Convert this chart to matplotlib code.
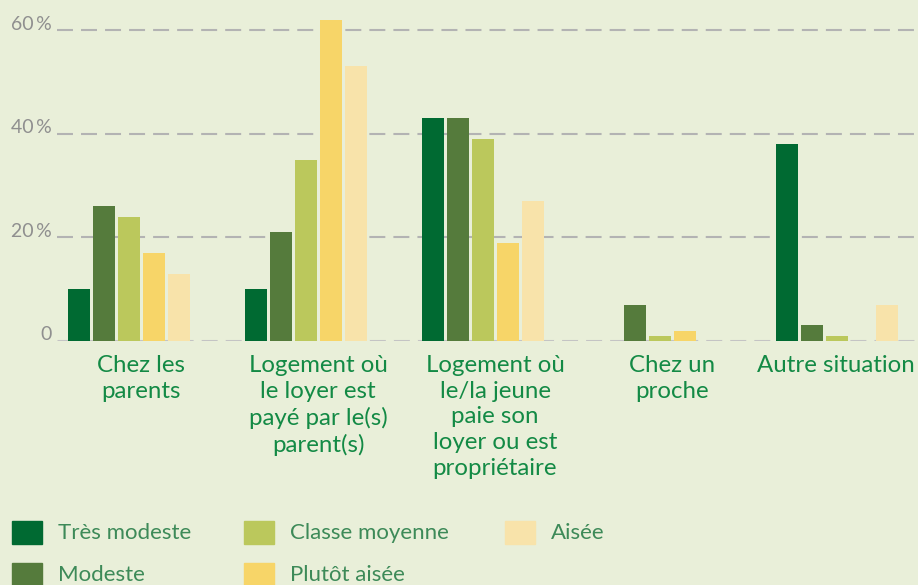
import numpy as np
import matplotlib.pyplot as plt
from matplotlib.patches import Rectangle

plt.rcParams['lines.scale_dashes'] = False

categories = ["Chez les\nparents",
              "Logement où\nle loyer est\npayé par le(s)\nparent(s)",
              "Logement où\nle/la jeune\npaie son\nloyer ou est\npropriétaire",
              "Chez un\nproche",
              "Autre situation"]
groups = ["Très modeste", "Modeste", "Classe moyenne", "Plutôt aisée", "Aisée"]
tres_modeste = [10, 10, 43, 0, 38]
modeste = [26, 21, 43, 7, 3]
classe_moyenne = [24, 35, 39, 1, 1]
plutot_aisee = [17, 62, 19, 2, 0]
aisee = [13, 53, 27, 0, 7]
series = [tres_modeste, modeste, classe_moyenne, plutot_aisee, aisee]
colors = ["#006a32", "#557b3c", "#bbc85c", "#f7d568", "#f8e3aa"]
yticks = [0, 20, 40, 60]
ytick_labels = ["0", "20\u2009%", "40\u2009%", "60\u2009%"]

bg = "#e9efd9"
green_txt = "#138a45"
font = "Lato"

fig = plt.figure(figsize=(9.18, 5.85), dpi=100, facecolor=bg)
ax = fig.add_axes([57 / 918, (585 - 341) / 585, 1 - 57 / 918, 331 / 585])
ax.set_facecolor(bg)

group_step = 7.08
x = np.arange(len(categories)) * group_step
for j, (vals, c) in enumerate(zip(series, colors)):
    ax.bar(x + j, vals, width=0.88, color=c, zorder=3)

ax.set_xlim(-0.88, -0.88 + 861 / 25)
ax.set_ylim(0, 331 / 5.18)

for t in yticks:
    ax.axhline(t, color="#b3b3b3" if t else "#c4c4c4", lw=1.5 if t else 2.2,
               linestyle=(0, (11.5, 5.8)), zorder=1)

ax.set_yticks(yticks)
ax.set_yticklabels([])
for t, lab in zip(yticks, ytick_labels):
    ax.annotate(lab, xy=(0, t), xycoords=("axes fraction", "data"),
                xytext=(-5, 6), textcoords="offset pixels",
                ha="right", va="center", color="#8f8f8f", fontsize=14,
                fontfamily=font)

# labels sit a little right of the group centre; the last one is pulled
# back so it stays inside the figure
label_x = x + 2.48
label_x[-1] = x[-1] + 1.95
ax.set_xticks(label_x)
ax.set_xticklabels(categories, fontsize=17.3, color=green_txt, fontfamily=font,
                   linespacing=1.28, va="top")
ax.tick_params(axis="both", length=0)
ax.tick_params(axis="x", pad=10)
for s in ax.spines.values():
    s.set_visible(False)

# legend drawn by hand: three columns, two rows
col_x = [12, 244, 505]
row_y = [521, 563]
for k, (name, c) in enumerate(zip(groups, colors)):
    col, row = k // 2, k % 2
    px, py = col_x[col], row_y[row]
    fig.patches.append(Rectangle((px / 918, 1 - (py + 23) / 585), 30 / 918, 23 / 585,
                                 transform=fig.transFigure, color=c))
    fig.text((px + 46) / 918, 1 - (py + 12) / 585, name, ha="left", va="center",
             fontsize=16, color="#3d8a58", fontfamily=font)

fig.savefig("out.png", dpi=100, facecolor=bg)
